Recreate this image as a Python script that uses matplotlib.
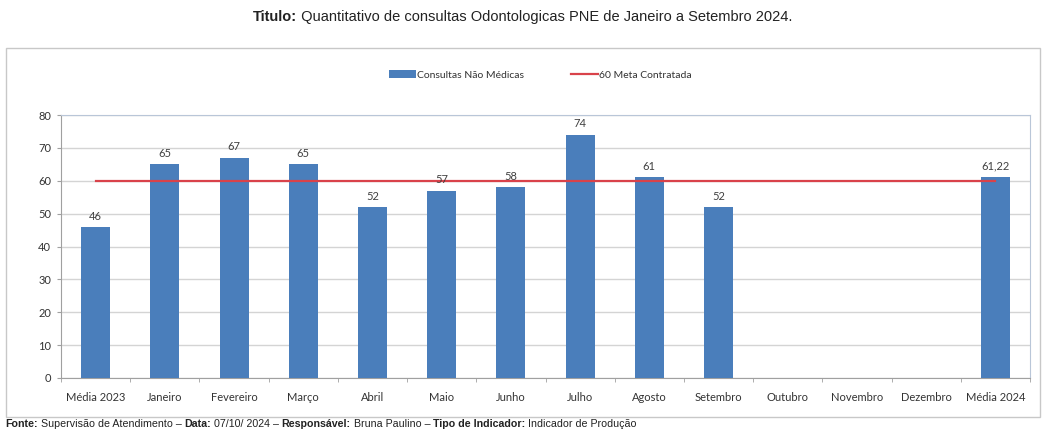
import matplotlib
matplotlib.use("Agg")
import matplotlib.pyplot as plt
from matplotlib.patches import Rectangle

categories = ["Média 2023", "Janeiro", "Fevereiro", "Março", "Abril", "Maio", "Junho",
              "Julho", "Agosto", "Setembro", "Outubro", "Novembro", "Dezembro", "Média 2024"]
values = [46, 65, 67, 65, 52, 57, 58, 74, 61, 52, None, None, None, 61.22]
value_labels = ["46", "65", "67", "65", "52", "57", "58", "74", "61", "52", "", "", "", "61,22"]
meta = [60] * len(categories)
yticks = [0, 10, 20, 30, 40, 50, 60, 70, 80]

chart_font = ["Lato", "DejaVu Sans"]
text_font = ["Liberation Sans", "DejaVu Sans"]

fig = plt.figure(figsize=(10.45, 4.32), dpi=100)
fig.patch.set_facecolor("white")

# outer chart box
fig.patches.append(Rectangle((6 / 1045, 1 - 417 / 432), 1034 / 1045, 369 / 432,
                             transform=fig.transFigure, fill=False,
                             edgecolor="#c8c8c8", linewidth=1.0))

ax = fig.add_axes([61 / 1045, 1 - 378 / 432, 969 / 1045, 263 / 432])
x = list(range(len(categories)))
bx = [i for i, v in zip(x, values) if v is not None]
bv = [v for v in values if v is not None]
bars = ax.bar(bx, bv, width=0.42, color="#4a7ebb", zorder=3,
              label="Consultas Não Médicas")
line, = ax.plot(x, meta, color="#d9424a", linewidth=1.6, zorder=4,
                label="60 Meta Contratada")

for i, v, lab in zip(x, values, value_labels):
    if v is not None and lab:
        ax.text(i, v + 1.6, lab, ha="center", va="bottom", fontsize=8,
                color="#404040", family=chart_font, zorder=5)

ax.set_xlim(-0.5, len(categories) - 0.5)
ax.set_ylim(0, 80)
ax.set_yticks(yticks)
ax.set_xticks(x)
ax.set_xticks([i - 0.5 for i in range(len(categories) + 1)], minor=True)
ax.set_xticklabels(categories, fontsize=8, family=chart_font, color="#333333")
for t in ax.get_yticklabels():
    t.set_fontsize(8)
    t.set_family(chart_font)
    t.set_color("#333333")
ax.grid(axis="y", color="#d4d4d4", linewidth=1.0, zorder=0)
ax.tick_params(axis="y", length=3, color="#a0a0a0", pad=4)
ax.tick_params(axis="x", which="major", length=0, pad=10)
ax.tick_params(axis="x", which="minor", length=3, color="#a0a0a0")
for s in ["top", "right"]:
    ax.spines[s].set_color("#b9c6d8")
for s in ["left", "bottom"]:
    ax.spines[s].set_color("#a0a0a0")

leg = fig.legend([bars, line], ["Consultas Não Médicas", "60 Meta Contratada"],
                 loc="center", bbox_to_anchor=(0.517, 1 - 75 / 432), ncol=2,
                 frameon=False, handlelength=2.6, columnspacing=4.5,
                 handletextpad=0.1, prop={"family": chart_font, "size": 7.5})
for t in leg.get_texts():
    t.set_color("#333333")


def rich_text(pieces, x0, y0, size, ha="left"):
    fig.canvas.draw()
    r = fig.canvas.get_renderer()
    objs = []
    widths = []
    for s, bold in pieces:
        t = fig.text(0, y0, s, fontsize=size, family=text_font,
                     fontweight="bold" if bold else "normal",
                     color="#222222", va="baseline", ha="left")
        bb = t.get_window_extent(renderer=r)
        objs.append(t)
        widths.append(bb.width / fig.bbox.width)
    total = sum(widths)
    start = x0 - total / 2 if ha == "center" else x0
    cur = start
    for t, w in zip(objs, widths):
        t.set_x(cur)
        cur += w


rich_text([("Titulo:", True),
           (" Quantitativo de consultas Odontologicas PNE de Janeiro a Setembro 2024.", False)],
          0.5, 1 - 21 / 432, 10.5, ha="center")

rich_text([("Fonte:", True), (" Supervisão de Atendimento – ", False),
           ("Data:", True), (" 07/10/ 2024 – ", False),
           ("Responsável:", True), (" Bruna Paulino – ", False),
           ("Tipo de Indicador:", True), (" Indicador de Produção", False)],
          5 / 1045, 1 - 427 / 432, 7.7, ha="left")

fig.savefig("out.png", dpi=100, facecolor="white")
